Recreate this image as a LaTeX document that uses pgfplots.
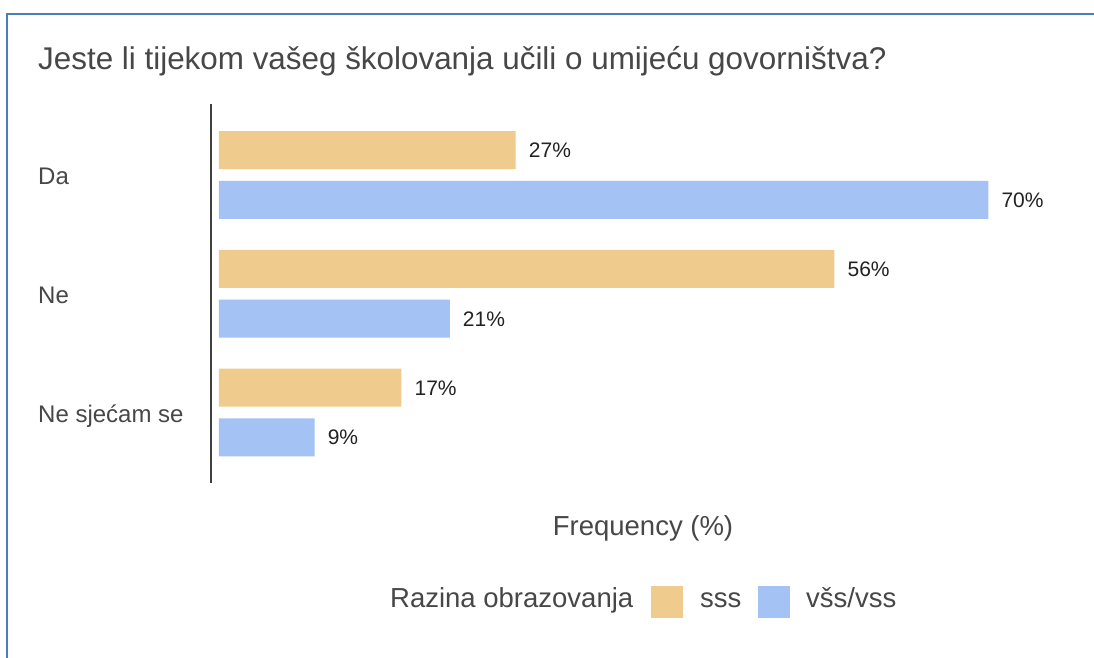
\documentclass[border=0pt]{standalone}
\usepackage{fontspec}
\setmainfont{Liberation Sans}
\usepackage{pgfplots}
\pgfplotsset{compat=1.18}
\definecolor{sss}{HTML}{EFCC8D}
\definecolor{vss}{HTML}{A4C2F4}
\definecolor{frame}{HTML}{4A7EBB}
\definecolor{txt}{HTML}{474747}
\definecolor{dtxt}{HTML}{222222}
\begin{document}
\begin{tikzpicture}
\useasboundingbox (0,0) rectangle (1094pt,-658pt);
\fill[white] (0,0) rectangle (1094pt,-658pt);
\draw[frame, line width=2.5pt] (7pt,-658pt) -- (7pt,-14pt) -- (1094pt,-14pt);
\node[anchor=base west, inner sep=0pt, text=txt, font=\fontsize{31.4}{36}\selectfont] at (38pt,-70pt) {Jeste li tijekom vašeg školovanja učili o umijeću govorništva?};
\begin{axis}[
 at={(210.5pt,-483pt)}, anchor=south west,
 scale only axis, width=887.7pt, height=379pt,
 xmin=-0.77, xmax=80, ymin=-0.5979, ymax=2.5937, y dir=reverse,
 axis x line=none, axis y line*=left,
 y axis line style={draw=black!75, line width=2pt},
 ytick={0,1,2}, yticklabels={Da,Ne,Ne sjećam se},
 major tick length=0pt,
 yticklabel style={anchor=base west, inner sep=0pt, xshift=-172.5pt, yshift=-9.5pt, text=txt, font=\fontsize{24}{28}\selectfont},
 xbar, bar width=38pt,
 clip=false,
 point meta=x,
 nodes near coords={\pgfmathprintnumber[fixed,precision=0]{\pgfplotspointmeta}\%},
 nodes near coords style={anchor=base west, inner sep=0pt, xshift=13pt, yshift=-7.5pt, text=dtxt, font=\fontsize{21}{24}\selectfont},
 /pgf/number format/assume math mode=true,
]
\addplot[fill=sss, draw=none, bar shift=0pt] coordinates {(27,-0.21) (56,0.79) (16.6,1.79)};
\addplot[fill=vss, draw=none, bar shift=0pt] coordinates {(70,0.21) (21,1.21) (8.7,2.21)};
\end{axis}
\node[anchor=base, inner sep=0pt, text=txt, font=\fontsize{27.5}{32}\selectfont] at (643pt,-535pt) {Frequency (\%)};
\node[anchor=base west, inner sep=0pt, text=txt, font=\fontsize{27.5}{32}\selectfont] at (390pt,-607pt) {Razina obrazovanja};
\fill[sss] (651pt,-586pt) rectangle (683pt,-618pt);
\node[anchor=base west, inner sep=0pt, text=txt, font=\fontsize{27.5}{32}\selectfont] at (700pt,-607pt) {sss};
\fill[vss] (758pt,-586pt) rectangle (790pt,-618pt);
\node[anchor=base west, inner sep=0pt, text=txt, font=\fontsize{27.5}{32}\selectfont] at (806pt,-607pt) {všs/vss};
\end{tikzpicture}
\end{document}
